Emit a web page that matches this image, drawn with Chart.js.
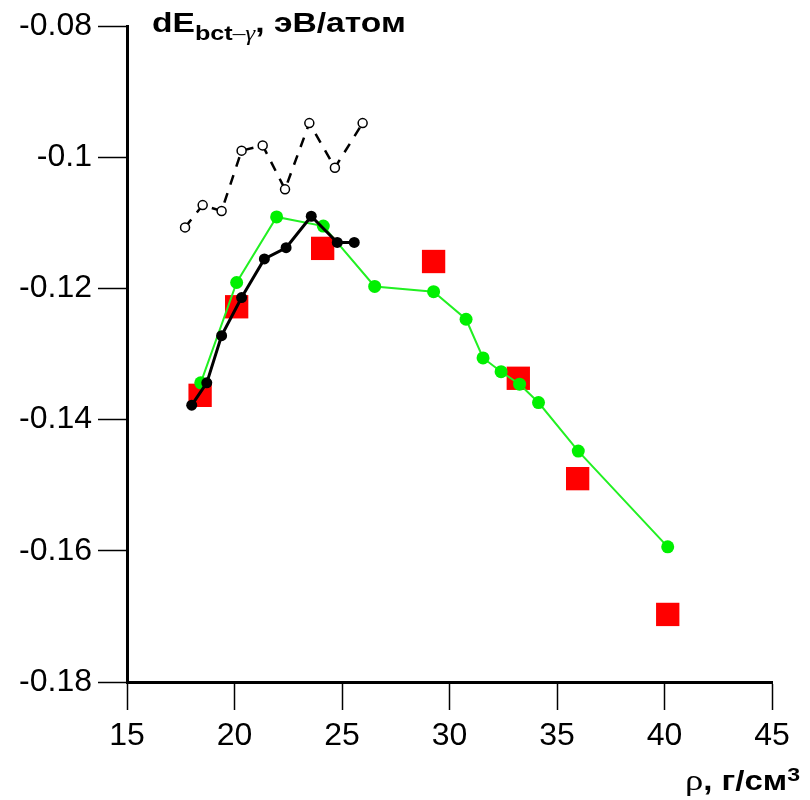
<!DOCTYPE html>
<html>
<head>
<meta charset="utf-8">
<script src="https://cdn.jsdelivr.net/npm/chart.js@4.4.1/dist/chart.umd.min.js"></script>
<style>
    body { margin: 0; background: #fff; }
    #wrap { position: relative; width: 810px; height: 800px; }
    #title {
        position: absolute; left: 152px; top: 9px; white-space: nowrap;
        font: bold 28px "Liberation Sans", Arial, sans-serif; line-height: 1;
        transform: scaleX(1.2); transform-origin: left top;
    }
    #title sub { font-size: 21px; vertical-align: -8px; line-height: 1; }
    #title .g { font-family: "Liberation Serif", serif; font-style: italic; font-weight: normal; }
    #xTitle {
        position: absolute; left: 685px; top: 765px; white-space: nowrap;
        font: bold 27px "Liberation Sans", Arial, sans-serif; line-height: 1;
        transform: scaleX(1.22); transform-origin: left top;
    }
    #xTitle .rho { font-family: "Liberation Serif", serif; font-weight: normal; font-size: 30px; }
    #xTitle sup { font-size: 19px; vertical-align: 9px; line-height: 1; }
</style>
</head>
<body>
<div id="wrap">
    <canvas id="chart" width="810" height="800"></canvas>
    <div id="title">dE<sub>bct<span class="g">–γ</span></sub>, эВ/атом</div>
    <div id="xTitle"><span class="rho">ρ</span>, г/см<sup>3</sup></div>
</div>
<script>
// open circles, dashed line
const openX = [17.70, 18.52, 19.40, 20.33, 21.31, 22.35, 23.48, 24.67, 25.96];
const openY = [-0.1107, -0.1073, -0.1082, -0.0990, -0.0982, -0.1049, -0.0948, -0.1016, -0.0948];

// black filled circles, solid line
const blackX = [18.01, 18.71, 19.40, 20.33, 21.39, 22.40, 23.57, 24.78, 25.57];
const blackY = [-0.1378, -0.1344, -0.1272, -0.1214, -0.1155, -0.1138, -0.1090, -0.1130, -0.1130];

// green circles, solid line
const greenX = [18.43, 20.10, 21.96, 24.13, 26.52, 29.26, 30.77, 31.56, 32.40, 33.26, 34.14, 35.99, 40.15];
const greenY = [-0.1344, -0.1191, -0.1091, -0.1105, -0.1197, -0.1205, -0.1247, -0.1306, -0.1327, -0.1346, -0.1374, -0.1448, -0.1594];

// red squares
const redX = [18.40, 20.10, 24.10, 29.26, 33.20, 35.96, 40.15];
const redY = [-0.1363, -0.1228, -0.1139, -0.1159, -0.1337, -0.1490, -0.1697];

const xTickLabels = ['15', '20', '25', '30', '35', '40', '45'];
const yTickLabels = ['-0.18', '-0.16', '-0.14', '-0.12', '-0.1', '-0.08'];

const toPoints = (xs, ys) => xs.map((x, i) => ({ x: x, y: ys[i] }));

const tickFont = { family: '"Liberation Sans", Arial, sans-serif', size: 32 };

new Chart(document.getElementById('chart').getContext('2d'), {
    type: 'scatter',
    data: {
        datasets: [{
            data: toPoints(openX, openY),
            showLine: true,
            borderColor: '#000',
            borderWidth: 2.5,
            borderDash: [10, 9],
            pointStyle: 'circle',
            pointRadius: 4.5,
            pointBorderWidth: 1.5,
            pointBorderColor: '#000',
            pointBackgroundColor: '#fff'
        }, {
            data: toPoints(blackX, blackY),
            showLine: true,
            borderColor: '#000',
            borderWidth: 3,
            pointRadius: 5.5,
            pointBorderWidth: 0,
            pointBackgroundColor: '#000'
        }, {
            data: toPoints(greenX, greenY),
            showLine: true,
            borderColor: '#22f022',
            borderWidth: 2,
            pointRadius: 6.5,
            pointBorderWidth: 0,
            pointBackgroundColor: '#00f000'
        }, {
            data: toPoints(redX, redY),
            showLine: false,
            pointStyle: 'rect',
            pointRadius: 16.5,
            pointBorderWidth: 0,
            pointBackgroundColor: '#ff0000'
        }]
    },
    options: {
        responsive: false,
        animation: false,
        layout: { padding: { left: 0, right: 38, top: 26, bottom: 0 } },
        plugins: {
            legend: { display: false },
            tooltip: { enabled: false }
        },
        scales: {
            x: {
                type: 'linear',
                min: 15,
                max: 45,
                afterFit: scale => { scale.height = 118; },
                border: { display: true, color: '#000', width: 3 },
                grid: { drawOnChartArea: false, drawTicks: true, tickLength: 28, tickWidth: 1.5, tickColor: '#000' },
                ticks: {
                    stepSize: 5,
                    padding: 7,
                    color: '#000',
                    font: tickFont,
                    maxRotation: 0,
                    callback: (v, i) => xTickLabels[i]
                }
            },
            y: {
                type: 'linear',
                min: -0.18,
                max: -0.08,
                afterFit: scale => { scale.width = 127; },
                border: { display: true, color: '#000', width: 3 },
                grid: { drawOnChartArea: false, drawTicks: true, tickLength: 29, tickWidth: 1.5, tickColor: '#000' },
                ticks: {
                    stepSize: 0.02,
                    padding: 6,
                    color: '#000',
                    font: tickFont,
                    callback: (v, i) => yTickLabels[i]
                }
            }
        }
    }
});
</script>
</body>
</html>
